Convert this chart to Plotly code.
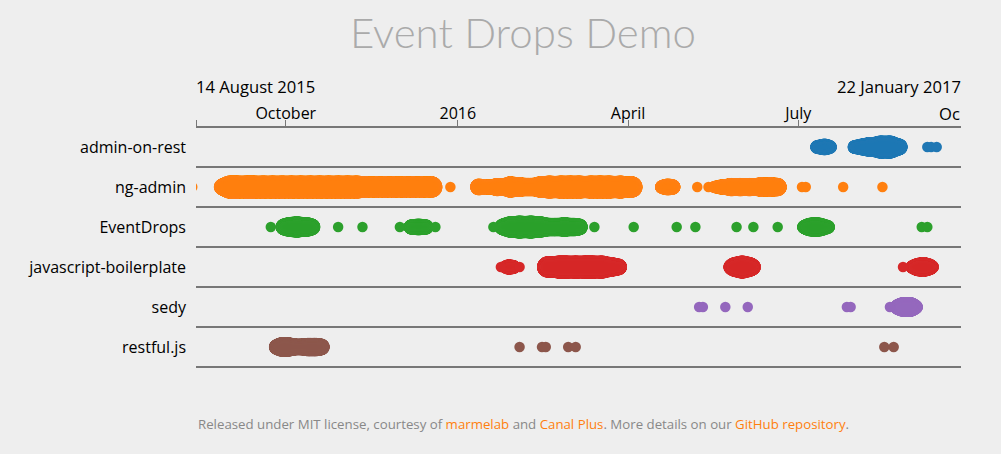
import plotly.graph_objects as go

# Repositories, top to bottom
repos = ['admin-on-rest', 'ng-admin', 'EventDrops', 'javascript-boilerplate', 'sedy', 'restful.js']
colors = ['#1f77b4', '#ff7f0e', '#2ca02c', '#d62728', '#9467bd', '#8c564b']

# Commit days per repository, with the number of commits that pile up around that day
admin_dates = ['2016-07-11', '2016-07-15', '2016-07-18',
               '2016-07-31', '2016-08-04', '2016-08-08', '2016-08-14', '2016-08-19', '2016-08-24',
               '2016-09-08', '2016-09-10', '2016-09-13']
admin_counts = [3, 5, 3,
                3, 5, 7, 9, 9, 5,
                1, 1, 1]

ng_dates = ['2015-08-12',
            '2015-08-28', '2015-09-01', '2015-09-05', '2015-09-10', '2015-09-14', '2015-09-19', '2015-09-24',
            '2015-09-29', '2015-10-04', '2015-10-09', '2015-10-14', '2015-10-19', '2015-10-24', '2015-10-29',
            '2015-11-03', '2015-11-08', '2015-11-13', '2015-11-18', '2015-11-23', '2015-11-28', '2015-12-03',
            '2015-12-08', '2015-12-13', '2015-12-18',
            '2015-12-28',
            '2016-01-12', '2016-01-16', '2016-01-22', '2016-01-29', '2016-02-03', '2016-02-08', '2016-02-14',
            '2016-02-19', '2016-02-25', '2016-03-01', '2016-03-06', '2016-03-12', '2016-03-17', '2016-03-22',
            '2016-03-28', '2016-04-03',
            '2016-04-19', '2016-04-22', '2016-04-25',
            '2016-05-08',
            '2016-05-14', '2016-05-17', '2016-05-21', '2016-05-26', '2016-05-31', '2016-06-05', '2016-06-11',
            '2016-06-16', '2016-06-20',
            '2016-07-03', '2016-07-05',
            '2016-07-25',
            '2016-08-15']
ng_counts = [1,
             5, 9, 9, 9, 9, 9, 9,
             9, 9, 9, 9, 9, 9, 9,
             9, 9, 8, 8, 8, 8, 8,
             8, 8, 8,
             1,
             5, 4, 6, 8, 7, 6, 8,
             9, 9, 9, 9, 9, 9, 9,
             9, 8,
             3, 5, 4,
             1,
             1, 2, 4, 6, 6, 6, 7,
             7, 6,
             1, 1,
             1,
             1]

drops_dates = ['2015-09-23', '2015-09-30', '2015-10-03', '2015-10-07', '2015-10-12', '2015-10-15',
               '2015-10-29', '2015-11-11',
               '2015-12-01', '2015-12-07', '2015-12-11', '2015-12-15', '2015-12-20',
               '2016-01-20', '2016-01-25', '2016-01-29', '2016-02-03', '2016-02-09', '2016-02-14', '2016-02-18',
               '2016-02-22', '2016-02-27', '2016-03-03', '2016-03-06',
               '2016-03-14', '2016-04-04', '2016-04-27', '2016-05-07',
               '2016-05-29', '2016-06-07', '2016-06-20',
               '2016-07-04', '2016-07-07', '2016-07-10', '2016-07-13', '2016-07-17',
               '2016-09-05', '2016-09-08']
drops_counts = [1, 5, 7, 8, 7, 5,
                1, 1,
                1, 4, 5, 4, 1,
                1, 5, 8, 9, 9, 8, 6,
                6, 7, 6, 5,
                1, 1, 1, 1,
                1, 1, 1,
                3, 6, 7, 6, 3,
                1, 1]

boiler_dates = ['2016-01-24', '2016-01-26', '2016-01-28', '2016-01-31', '2016-02-03',
                '2016-02-18', '2016-02-24', '2016-02-28', '2016-03-04', '2016-03-09', '2016-03-13', '2016-03-18',
                '2016-03-23', '2016-03-27',
                '2016-05-26', '2016-05-28', '2016-06-01', '2016-06-05', '2016-06-07',
                '2016-08-26', '2016-08-31', '2016-09-03', '2016-09-06', '2016-09-09', '2016-09-11']
boiler_counts = [1, 2, 4, 3, 1,
                 8, 9, 9, 9, 9, 9, 9,
                 7, 5,
                 4, 7, 9, 7, 4,
                 1, 3, 6, 7, 5, 2]

sedy_dates = ['2016-05-09', '2016-05-11', '2016-05-23', '2016-06-04',
              '2016-07-27', '2016-07-29',
              '2016-08-19', '2016-08-23', '2016-08-26', '2016-08-30', '2016-09-02']
sedy_counts = [1, 1, 1, 1,
               1, 1,
               1, 4, 7, 7, 3]

restful_dates = ['2015-09-26', '2015-09-29', '2015-10-02', '2015-10-06', '2015-10-10', '2015-10-13', '2015-10-17',
                 '2015-10-20',
                 '2016-02-03', '2016-02-15', '2016-02-17', '2016-02-29', '2016-03-04',
                 '2016-08-16', '2016-08-21']
restful_counts = [4, 7, 7, 5, 5, 6, 6,
                  5,
                  1, 1, 1, 1, 1,
                  1, 1]

all_dates = [admin_dates, ng_dates, drops_dates, boiler_dates, sedy_dates, restful_dates]
all_counts = [admin_counts, ng_counts, drops_counts, boiler_counts, sedy_counts, restful_counts]

tick_dates = ['2015-08-14', '2015-10-01', '2016-01-01', '2016-04-01', '2016-07-01']
tick_labels = ['', 'October', '2016', 'April', 'July']

# Plot area in page pixels
LEFT, RIGHT, TOP, BOTTOM = 196, 961, 127, 367
AXIS_COLOR = '#777777'


def paper_x(px):
    return (px - LEFT) / (RIGHT - LEFT)


def paper_y(py):
    return (BOTTOM - py) / (BOTTOM - TOP)


fig = go.Figure()

# First the piled-up days, which the goo filter below melts into blobs
for repo, color, dates, counts in zip(repos, colors, all_dates, all_counts):
    piled = [(d, c) for d, c in zip(dates, counts) if c > 1]
    fig.add_trace(go.Scatter(
        x=[d for d, c in piled],
        y=[repo] * len(piled),
        mode='markers',
        name=repo,
        marker=dict(color=color, opacity=1, size=[9.5 + 1.5 * c for d, c in piled], line=dict(width=0)),
    ))

# Then the single drops, left as plain round dots
for repo, color, dates, counts in zip(repos, colors, all_dates, all_counts):
    single = [d for d, c in zip(dates, counts) if c == 1]
    fig.add_trace(go.Scatter(
        x=single,
        y=[repo] * len(single),
        mode='markers',
        name=repo,
        marker=dict(color=color, opacity=1, size=10.5, line=dict(width=0)),
    ))

footer = ('Released under MIT license, courtesy of <span style="color:#ff7f0e">marmelab</span> and '
          '<span style="color:#ff7f0e">Canal Plus</span>. More details on our '
          '<span style="color:#ff7f0e">GitHub repository</span>.')

fig.update_layout(
    width=1001,
    height=454,
    margin=dict(l=LEFT, r=1001 - RIGHT, t=TOP, b=454 - BOTTOM),
    paper_bgcolor='#eeeeee',
    plot_bgcolor='#eeeeee',
    showlegend=False,
    font=dict(family='Open Sans', color='#000000', size=16),
    xaxis=dict(
        type='date',
        side='top',
        range=['2015-08-14', '2016-09-26'],
        tickmode='array',
        tickvals=tick_dates,
        ticktext=tick_labels,
        ticks='outside',
        ticklen=6,
        tickwidth=1,
        tickcolor=AXIS_COLOR,
        ticklabelstandoff=-5,
        showline=False,
        showgrid=False,
        zeroline=False,
    ),
    yaxis=dict(
        type='category',
        categoryorder='array',
        categoryarray=repos,
        range=[5.5, -0.5],
        tickson='boundaries',
        ticks='',
        ticklabelstandoff=9,
        showgrid=True,
        gridcolor=AXIS_COLOR,
        gridwidth=2,
        showline=False,
        zeroline=False,
    ),
    shapes=[
        dict(type='line', xref='paper', yref='paper', x0=0, x1=1, y0=1, y1=1,
             line=dict(color=AXIS_COLOR, width=2), layer='below'),
        dict(type='line', xref='paper', yref='paper', x0=0, x1=1, y0=0, y1=0,
             line=dict(color=AXIS_COLOR, width=2), layer='below'),
    ],
    annotations=[
        dict(text='14 August 2015', x=paper_x(196), y=paper_y(87), xref='paper', yref='paper',
             xanchor='left', yanchor='middle', showarrow=False, xshift=-2, font=dict(size=16.6)),
        dict(text='22 January 2017', x=paper_x(961), y=paper_y(87), xref='paper', yref='paper',
             xanchor='right', yanchor='middle', showarrow=False, xshift=2, font=dict(size=16.6)),
        dict(text='Oc', x=paper_x(939), y=paper_y(113), xref='paper', yref='paper',
             xanchor='left', yanchor='middle', showarrow=False, xshift=-2, font=dict(size=16.6)),
        dict(text='Event Drops Demo', x=paper_x(523), y=paper_y(32), xref='paper', yref='paper',
             xanchor='center', yanchor='middle', showarrow=False,
             font=dict(family='Lato', weight=300, size=42, color='#aaaaaa')),
        dict(text=footer, x=paper_x(198), y=paper_y(424), xref='paper', yref='paper',
             xanchor='left', yanchor='middle', showarrow=False, xshift=-2,
             font=dict(size=13.25, color='#888888')),
    ],
)

# Same goo filter as the original page, only on the piled-up traces (the first six)
goo_script = """
document.body.style.margin = '0';
document.body.style.overflow = 'hidden';
var svg = document.querySelector('.main-svg');
var ns = 'http://www.w3.org/2000/svg';
var filter = document.createElementNS(ns, 'filter');
filter.setAttribute('id', 'goo');
filter.setAttribute('x', '-5%');
filter.setAttribute('y', '-100%');
filter.setAttribute('width', '110%');
filter.setAttribute('height', '300%');
var blur = document.createElementNS(ns, 'feGaussianBlur');
blur.setAttribute('in', 'SourceGraphic');
blur.setAttribute('stdDeviation', '2.6');
var matrix = document.createElementNS(ns, 'feColorMatrix');
matrix.setAttribute('values', '1 0 0 0 0  0 1 0 0 0  0 0 1 0 0  0 0 0 14 -5.5');
filter.appendChild(blur);
filter.appendChild(matrix);
svg.appendChild(filter);
document.querySelectorAll('.scatterlayer .trace .points').forEach(function (g, i) {
    if (i < 6) {
        g.style.filter = 'url(#goo)';
    }
});
"""

fig.write_html("out.html", config=dict(displayModeBar=False), post_script=goo_script)
